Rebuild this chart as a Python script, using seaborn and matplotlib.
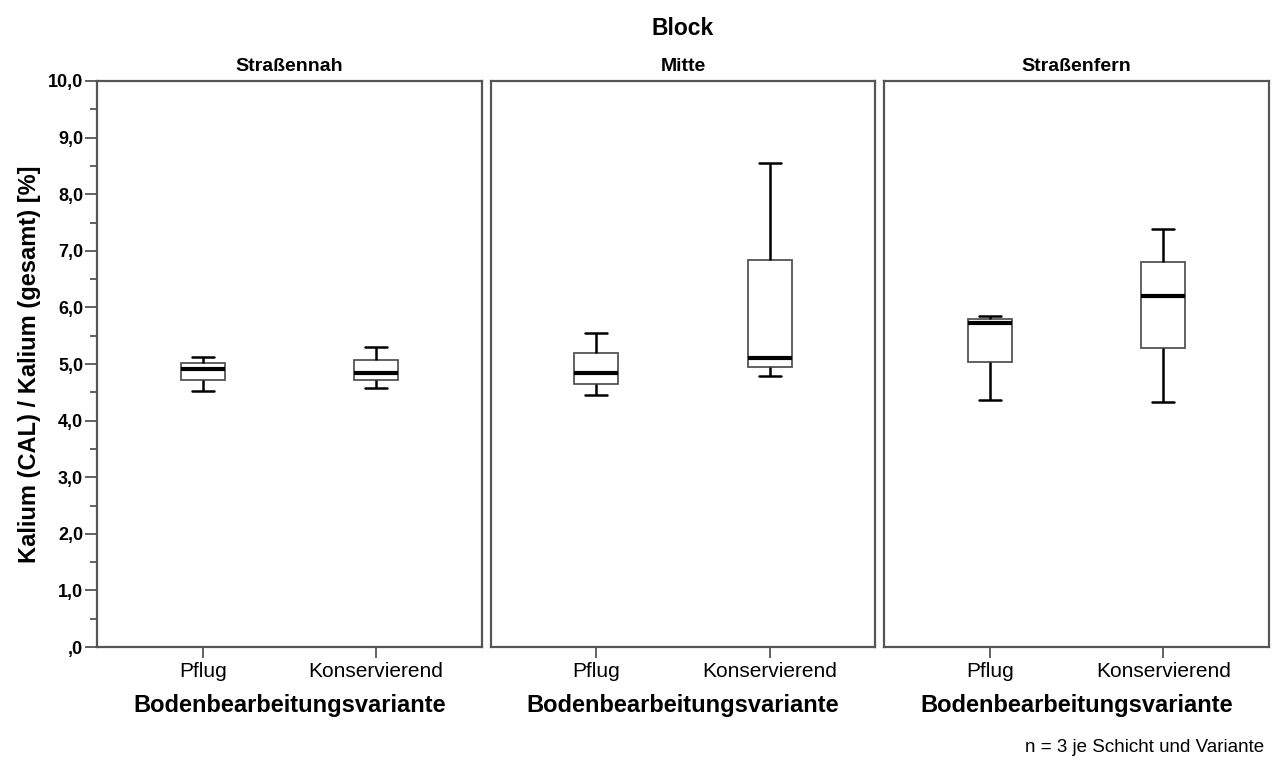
import pandas as pd
import matplotlib
matplotlib.use('Agg')
import matplotlib.pyplot as plt
import numpy as np
import seaborn as sns
import matplotlib.ticker as ticker

# Values: min, Q1, median, Q3, max per block and variant
blocks = ['Straßennah', 'Mitte', 'Straßenfern']
variants = ['Pflug', 'Konservierend']

strassennah_pflug = [4.52, 4.72, 4.92, 5.02, 5.12]
strassennah_kons = [4.58, 4.71, 4.84, 5.07, 5.30]
mitte_pflug = [4.45, 4.65, 4.85, 5.20, 5.54]
mitte_kons = [4.79, 4.95, 5.11, 6.84, 8.56]
strassenfern_pflug = [4.37, 5.04, 5.72, 5.80, 5.85]
strassenfern_kons = [4.33, 5.28, 6.21, 6.80, 7.39]

y_ticks = [0, 1, 2, 3, 4, 5, 6, 7, 8, 9, 10]

series = {
    ('Straßennah', 'Pflug'): strassennah_pflug,
    ('Straßennah', 'Konservierend'): strassennah_kons,
    ('Mitte', 'Pflug'): mitte_pflug,
    ('Mitte', 'Konservierend'): mitte_kons,
    ('Straßenfern', 'Pflug'): strassenfern_pflug,
    ('Straßenfern', 'Konservierend'): strassenfern_kons,
}

rows = []
for (block, variant), vals in series.items():
    for v in vals:
        rows.append({'Block': block, 'Variante': variant, 'Wert': v})
df = pd.DataFrame(rows)

sns.set_theme(style='white')
plt.rcParams['font.family'] = ['Liberation Sans', 'DejaVu Sans']
plt.rcParams['text.color'] = 'black'
plt.rcParams['axes.labelcolor'] = 'black'
plt.rcParams['xtick.color'] = 'black'
plt.rcParams['ytick.color'] = 'black'

g = sns.catplot(
    data=df, x='Variante', y='Wert', col='Block', kind='box',
    order=variants, col_order=blocks, sharey=True,
    facet_kws=dict(despine=False),
    width=0.254, whis=(0, 100), showfliers=False, color='white',
    boxprops=dict(facecolor='white', edgecolor='#555555', linewidth=1.3),
    medianprops=dict(color='black', linewidth=3),
    whiskerprops=dict(color='black', linewidth=1.8),
    capprops=dict(color='black', linewidth=1.8),
    height=5, aspect=0.8,
)
fig = g.figure
fig.set_size_inches(12.72, 7.64)
fig.subplots_adjust(left=0.0763, right=0.9976, bottom=0.153, top=0.894, wspace=0.0234)

def comma_fmt(v, pos):
    s = f"{v:.1f}".replace('.', ',')
    return ',0' if s == '0,0' else s

for i, (ax, block) in enumerate(zip(g.axes.flat, blocks)):
    ax.set_xlim(-0.61, 1.61)
    ax.set_ylim(0, 10)
    ax.set_title(block, fontsize=14, fontweight='bold', pad=7, color='black')
    ax.set_xlabel('Bodenbearbeitungsvariante', fontsize=17, fontweight='bold',
                  labelpad=9, color='black')
    for sp in ax.spines.values():
        sp.set_color('#555555')
        sp.set_linewidth(1.6)
    ax.tick_params(axis='x', bottom=True, direction='out', length=8, width=1.3,
                   color='#555555', labelcolor='black', labelsize=15, pad=3)
    if i == 0:
        ax.set_yticks(y_ticks)
        ax.yaxis.set_major_formatter(ticker.FuncFormatter(comma_fmt))
        ax.yaxis.set_minor_locator(ticker.MultipleLocator(0.5))
        ax.tick_params(axis='y', which='major', left=True, direction='out', length=9,
                       width=1.3, color='#555555', labelcolor='black', labelsize=13, pad=1)
        ax.tick_params(axis='y', which='minor', left=True, direction='out', length=5,
                       width=1.3, color='#555555')
        for lab in ax.get_yticklabels():
            lab.set_fontweight('bold')
        ax.set_ylabel('Kalium (CAL) / Kalium (gesamt) [%]', fontsize=17, fontweight='bold',
                      labelpad=5, color='black')
    else:
        ax.tick_params(axis='y', left=False)

fig.suptitle('Block', x=0.537, y=0.978, fontsize=16.5, fontweight='bold', color='black')
fig.text(0.994, 0.021, 'n = 3 je Schicht und Variante', ha='right', va='center',
         fontsize=13.5, color='black')

fig.savefig('out.png', dpi=100)
